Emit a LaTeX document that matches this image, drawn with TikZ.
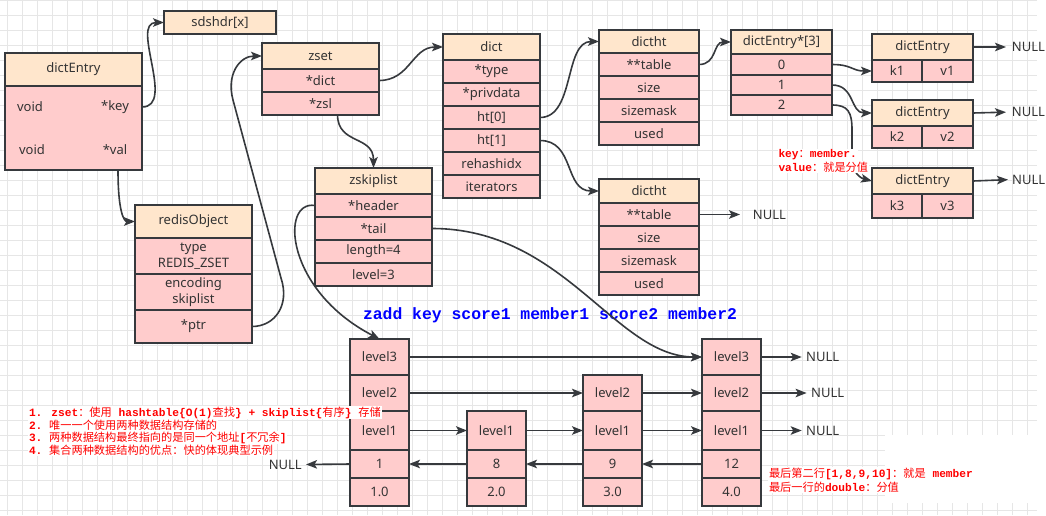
\documentclass[tikz,border=0pt]{standalone}
\usepackage{fontspec}
\setmainfont{Noto Sans}
\newfontfamily\anncjk{Noto Sans CJK SC}
\newfontfamily\annmono{Liberation Mono}
\usetikzlibrary{arrows.meta}
\definecolor{hdfill}{HTML}{FFE6CC}
\definecolor{bdfill}{HTML}{FFCCCC}
\definecolor{edgec}{HTML}{36393D}
\definecolor{txtc}{HTML}{333333}
\definecolor{gridc}{HTML}{E6E6E6}
\definecolor{annred}{HTML}{FF0000}
\definecolor{cmdblue}{HTML}{0000FF}
\newcommand\lblfont{\fontsize{13}{16}\selectfont}
\newcommand\redfont{\fontsize{11.2}{13}\selectfont}
\newcommand\annmb[1]{{\annmono\bfseries #1}}
\newcommand\annzh[1]{{\anncjk #1}}
\tikzset{
  cellbase/.style={draw=edgec, line width=1.8pt, inner sep=0pt, outer sep=0pt,
    text=txtc, font=\lblfont, anchor=north west, align=center},
  hdcell/.style={cellbase, fill=hdfill},
  bdcell/.style={cellbase, fill=bdfill},
  lbltxt/.style={inner sep=0pt, text=txtc, font=\lblfont},
  nulltxt/.style={inner sep=0pt, text=txtc, font=\lblfont},
  redtxt/.style={anchor=west, fill=white, inner sep=0.8pt, text=annred, font=\redfont},
  conn/.style={draw=edgec, line width=1.6pt, -{Stealth[length=11pt,width=8.5pt,inset=2.5pt]}},
  gridline/.style={draw=gridc, line width=0.8pt},
}
\begin{document}
\begin{tikzpicture}[x=1pt,y=-1pt]
\useasboundingbox (0,0) rectangle (1046,515);
\fill[white] (0,0) rectangle (1046,515);
% grid
\foreach \gx in {0,...,68} \draw[gridline] ({7.3+15*\gx},0) -- ({7.3+15*\gx},515);
\foreach \gy in {0,...,34} \draw[gridline] (0,{0.7+15*\gy}) -- (1037,{0.7+15*\gy});
\fill[white] (885,435) rectangle (1037,503);

% sdshdr
\node[hdcell, minimum width=112, minimum height=23] (sds) at (164,11) {sdshdr[x]};
% big dictEntry
\node[hdcell, minimum width=137, minimum height=33] (deh) at (5,53) {dictEntry};
\node[bdcell, minimum width=137, minimum height=84] (deb) at (5,86) {};
\node[lbltxt] (dv1) at (30,107) {void};
\node[lbltxt] (dk) at (115,107) {*key};
\node[lbltxt] (dv2) at (32,150) {void};
\node[lbltxt] (dvl) at (115,150) {*val};
% zset
\node[hdcell, minimum width=117, minimum height=26] (zsh) at (262,43) {zset};
\node[bdcell, minimum width=117, minimum height=23] (zd) at (262,69) {*dict};
\node[bdcell, minimum width=117, minimum height=23] (zz) at (262,92) {*zsl};
% dict
\node[hdcell, minimum width=97, minimum height=26] (dh) at (443,34) {dict};
\node[bdcell, minimum width=97, minimum height=23] (dtyp) at (443,60) {*type};
\node[bdcell, minimum width=97, minimum height=23] (dpriv) at (443,83) {*privdata};
\node[bdcell, minimum width=97, minimum height=23] (dht0) at (443,106) {ht[0]};
\node[bdcell, minimum width=97, minimum height=23] (dht1) at (443,129) {ht[1]};
\node[bdcell, minimum width=97, minimum height=23] (dre) at (443,152) {rehashidx};
\node[bdcell, minimum width=97, minimum height=23] (dit) at (443,175) {iterators};
% dictht 1
\node[hdcell, minimum width=100, minimum height=23] (t1h) at (599,30) {dictht};
\node[bdcell, minimum width=100, minimum height=23] (t1tab) at (599,53) {**table};
\node[bdcell, minimum width=100, minimum height=23] (t1size) at (599,76) {size};
\node[bdcell, minimum width=100, minimum height=23] (t1mask) at (599,99) {sizemask};
\node[bdcell, minimum width=100, minimum height=23] (t1used) at (599,122) {used};
% dictht 2
\node[hdcell, minimum width=100, minimum height=24] (t2h) at (599,179) {dictht};
\node[bdcell, minimum width=100, minimum height=23] (t2tab) at (599,203) {**table};
\node[bdcell, minimum width=100, minimum height=23] (t2size) at (599,226) {size};
\node[bdcell, minimum width=100, minimum height=23] (t2mask) at (599,249) {sizemask};
\node[bdcell, minimum width=100, minimum height=23] (t2used) at (599,272) {used};
% dictEntry*[3]
\node[hdcell, minimum width=101, minimum height=24] (eah) at (731,30) {dictEntry*[3]};
\node[bdcell, minimum width=101, minimum height=21] (ea0) at (731,54) {0};
\node[bdcell, minimum width=101, minimum height=20] (ea1) at (731,75) {1};
\node[bdcell, minimum width=101, minimum height=20] (ea2) at (731,95) {2};
% small dictEntries
\node[hdcell, minimum width=101, minimum height=26] (d1h) at (872,34) {dictEntry};
\node[bdcell, minimum width=50, minimum height=22] (k1) at (872,60) {k1};
\node[bdcell, minimum width=51, minimum height=22] (v1) at (922,60) {v1};
\node[hdcell, minimum width=101, minimum height=26] (d2h) at (872,100) {dictEntry};
\node[bdcell, minimum width=50, minimum height=22] (k2) at (872,126) {k2};
\node[bdcell, minimum width=51, minimum height=22] (v2) at (922,126) {v2};
\node[hdcell, minimum width=101, minimum height=26] (d3h) at (872,168) {dictEntry};
\node[bdcell, minimum width=50, minimum height=24] (k3) at (872,194) {k3};
\node[bdcell, minimum width=51, minimum height=24] (v3) at (922,194) {v3};
% redisObject
\node[hdcell, minimum width=117, minimum height=33] (roh) at (135,205) {redisObject};
\node[bdcell, minimum width=117, minimum height=36] (rot) at (135,238) {type\\REDIS\_ZSET};
\node[bdcell, minimum width=117, minimum height=36] (roe) at (135,274) {encoding\\skiplist};
\node[bdcell, minimum width=117, minimum height=33] (rop) at (135,310) {*ptr};
% zskiplist
\node[hdcell, minimum width=117, minimum height=26] (zkh) at (315,168) {zskiplist};
\node[bdcell, minimum width=117, minimum height=23] (zkhd) at (315,194) {*header};
\node[bdcell, minimum width=117, minimum height=23] (zktl) at (315,217) {*tail};
\node[bdcell, minimum width=117, minimum height=23] (zkln) at (315,240) {length=4};
\node[bdcell, minimum width=117, minimum height=23] (zklv) at (315,263) {level=3};
% skiplist nodes
\node[bdcell, minimum width=59, minimum height=36] (s1l3) at (350,339) {level3};
\node[bdcell, minimum width=59, minimum height=36] (s1l2) at (350,375) {level2};
\node[bdcell, minimum width=59, minimum height=39] (s1l1) at (350,411) {level1};
\node[bdcell, minimum width=59, minimum height=28] (s1m) at (350,450) {1};
\node[bdcell, minimum width=59, minimum height=28] (s1s) at (350,478) {1.0};
\node[bdcell, minimum width=59, minimum height=39] (s2l1) at (467,411) {level1};
\node[bdcell, minimum width=59, minimum height=28] (s2m) at (467,450) {8};
\node[bdcell, minimum width=59, minimum height=28] (s2s) at (467,478) {2.0};
\node[bdcell, minimum width=59, minimum height=36] (s3l2) at (583,375) {level2};
\node[bdcell, minimum width=59, minimum height=39] (s3l1) at (583,411) {level1};
\node[bdcell, minimum width=59, minimum height=28] (s3m) at (583,450) {9};
\node[bdcell, minimum width=59, minimum height=28] (s3s) at (583,478) {3.0};
\node[bdcell, minimum width=59, minimum height=36] (s4l3) at (702,339) {level3};
\node[bdcell, minimum width=59, minimum height=36] (s4l2) at (702,375) {level2};
\node[bdcell, minimum width=59, minimum height=39] (s4l1) at (702,411) {level1};
\node[bdcell, minimum width=59, minimum height=28] (s4m) at (702,450) {12};
\node[bdcell, minimum width=59, minimum height=28] (s4s) at (702,478) {4.0};
% NULL labels
\node[nulltxt, anchor=west] (nul1) at (1011.7,47) {NULL};
\node[nulltxt, anchor=west] (nul2) at (1011.7,112) {NULL};
\node[nulltxt, anchor=west] (nul3) at (1012,179.5) {NULL};
\node[nulltxt, anchor=west] (nul5) at (752.7,214.5) {NULL};
\node[nulltxt, anchor=east] (nul4) at (302,464.5) {NULL};
\node[nulltxt, anchor=west] (nl3) at (806,357) {NULL};
\node[nulltxt, anchor=west] (nl2) at (811,393) {NULL};
\node[nulltxt, anchor=west] (nl1) at (806,430.5) {NULL};
% command text
\node[inner sep=0pt, text=cmdblue, font={\fontsize{16.4}{18}\annmono\bfseries}] (cmd) at (550,315) {zadd key score1 member1 score2 member2};

% connectors
\draw[conn] (deb.east |- dk.center) .. controls (176,107) and (130,22.5) .. (sds.west);
\draw[conn] ([xshift=3pt]dvl.center |- deb.south) .. controls (118,212) and (124,221.5) .. (roh.west);
\draw[conn] (rop.east) .. controls (275,326.5) and (290,305) .. (281,278) -- (233,100) .. controls (226,74) and (240,56) .. (zsh.west);
\draw[conn] (zd.east) .. controls (410,80.5) and (412,47) .. (dh.west);
\draw[conn] ([xshift=17pt]zz.south) .. controls (338,145) and (373.5,135) .. (zkh.north);
\draw[conn] (dht0.east) .. controls (575,117.5) and (564,41.5) .. (t1h.west);
\draw[conn] (dht1.east) .. controls (575,140.5) and (564,191) .. (t2h.west);
\draw[conn] (t1tab.east) .. controls (717,64.5) and (713,42) .. (eah.west);
\draw[conn] (ea0.east) .. controls (852,64.5) and (852,71) .. (k1.west);
\draw[conn] (ea1.east) .. controls (855,85) and (850,113) .. (d2h.west);
\draw[conn] (ea2.east) .. controls (848,105) and (852,112) .. (852,130) -- (852,158) .. controls (852,172) and (860,178) .. (d3h.west);
\draw[conn, shorten >=12.7pt] (t2tab.east) -- (nul5.west);
\draw[conn, shorten >=5.7pt] (d1h.east) -- (nul1.west);
\draw[conn, shorten >=5.7pt] (d2h.east) -- (nul2.west);
\draw[conn, shorten >=4pt] (d3h.east) -- (nul3.west);
\draw[conn] (zkhd.west) .. controls (280,200) and (285,290) .. (s1l3.north);
\draw[conn] (zktl.east) .. controls (565,228.5) and (615,357) .. (s4l3.west);
% skiplist links
\draw[conn] (s1l3.east) -- (s4l3.west);
\draw[conn] (s1l2.east) -- (s3l2.west);
\draw[conn] (s3l2.east) -- (s4l2.west);
\draw[conn] (s1l1.east) -- (s2l1.west);
\draw[conn] (s2l1.east) -- (s3l1.west);
\draw[conn] (s3l1.east) -- (s4l1.west);
\draw[conn] (s4m.west) -- (s3m.east);
\draw[conn] (s3m.west) -- (s2m.east);
\draw[conn] (s2m.west) -- (s1m.east);
\draw[conn, shorten >=4pt] (s1m.west) -- (nul4.east);
\draw[conn, shorten >=4.3pt] (s4l3.east) -- (nl3.west);
\draw[conn, shorten >=4.4pt] (s4l2.east) -- (nl2.west);
\draw[conn, shorten >=4.3pt] (s4l1.east) -- (nl1.west);

% annotations
\node[redtxt] (kv1) at (777.5,155) {\annmb{key}\annzh{：}\annmb{member.}};
\node[redtxt] (kv2) at (777.5,167) {\annmb{value}\annzh{：就是分值}};
\node[redtxt] (r1) at (28,412.5) {\annmb{1. zset}\annzh{：使用}\annmb{\ hashtable\{O(1)}\annzh{查找}\annmb{\}\ +\ skiplist\{}\annzh{有序}\annmb{\}\ }\annzh{存储}};
\node[redtxt] (r2) at (28,425) {\annmb{2.\ }\annzh{唯一一个使用两种数据结构存储的}};
\node[redtxt] (r3) at (28,437.5) {\annmb{3.\ }\annzh{两种数据结构最终指向的是同一个地址}\annmb{[}\annzh{不冗余}\annmb{]}};
\node[redtxt] (r4) at (28,450) {\annmb{4.\ }\annzh{集合两种数据结构的优点：快的体现典型示例}};
\node[redtxt] (b1) at (768,474) {\annzh{最后第二行}\annmb{[1,8,9,10]}\annzh{：就是}\annmb{\ member}};
\node[redtxt] (b2) at (768,487) {\annzh{最后一行的}\annmb{double}\annzh{：分值}};
\end{tikzpicture}
\end{document}
